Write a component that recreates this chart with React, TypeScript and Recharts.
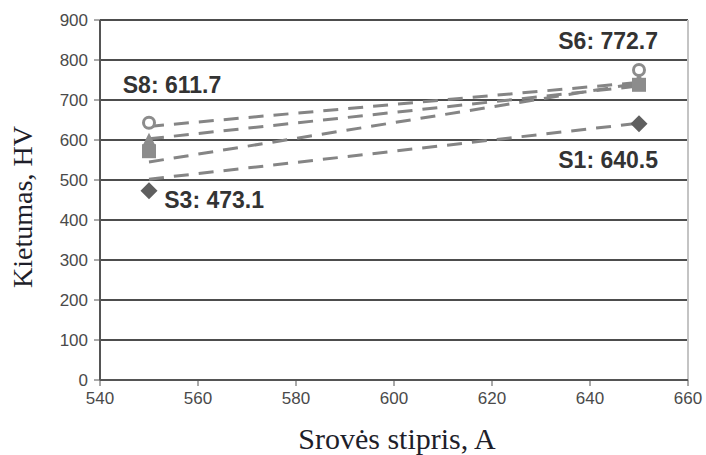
import React from "react";
import {
  CartesianGrid,
  ComposedChart,
  Label,
  Line,
  ReferenceDot,
  ReferenceLine,
  Scatter,
  XAxis,
  YAxis,
} from "recharts";

// current (A) at the two measured points
const currents = [550, 650];

// measured hardness per marker group
const diamondValues = [473.1, 640.5];
const circleValues = [643, 775];
const triangleValues = [598, 748];
const squareValues = [572, 738];

// dashed trend lines (start / end)
const trendA = [634, 744];
const trendB = [603, 735];
const trendC = [545, 742];
const trendD = [502, 642];

const xTicks = [540, 560, 580, 600, 620, 640, 660];
const yTicks = [0, 100, 200, 300, 400, 500, 600, 700, 800, 900];

const notes = [
  { text: "S6: 772.7", x: 643.7, y: 847 },
  { text: "S8: 611.7", x: 554.7, y: 737 },
  { text: "S1: 640.5", x: 643.7, y: 550 },
  { text: "S3: 473.1", x: 563.3, y: 450 },
];

const toPoints = (vals: number[]) => currents.map((x, i) => ({ x, y: vals[i] }));

const SANS = "'Liberation Sans', Arial, sans-serif";
const SERIF = "'Liberation Serif', 'Times New Roman', serif";

const Diamond = (p: any) => {
  const { cx, cy } = p;
  const r = 8.5;
  return <path d={`M${cx},${cy - r}L${cx + r},${cy}L${cx},${cy + r}L${cx - r},${cy}Z`} fill="#5f5f5f" />;
};

const Square = (p: any) => {
  const { cx, cy } = p;
  return <rect x={cx - 7} y={cy - 7} width={14} height={14} fill="#8c8c8c" />;
};

const Triangle = (p: any) => {
  const { cx, cy } = p;
  return <path d={`M${cx},${cy - 8}L${cx + 7},${cy + 6}L${cx - 7},${cy + 6}Z`} fill="#8c8c8c" />;
};

const OpenCircle = (p: any) => {
  const { cx, cy } = p;
  return <circle cx={cx} cy={cy} r={5.5} fill="#fff" stroke="#8c8c8c" strokeWidth={3} />;
};

const dash = { stroke: "#858585", strokeWidth: 3, strokeDasharray: "15 10" };

export default function App() {
  return (
    <div style={{ position: "absolute", left: 0, top: 0, background: "#fff" }}>
      <ComposedChart width={706} height={455} margin={{ top: 20, right: 18, left: 0, bottom: 0 }}>
        <CartesianGrid horizontal vertical={false} stroke="#4d4d4d" strokeWidth={2} />
        <ReferenceLine x={660} stroke="#c4c4c4" strokeWidth={2} />
        <XAxis
          type="number"
          dataKey="x"
          domain={[540, 660]}
          ticks={xTicks}
          height={75}
          tickSize={6}
          tickMargin={6}
          stroke="#555"
          axisLine={{ stroke: "#555", strokeWidth: 2 }}
          tick={{ fill: "#4a4a4a", fontSize: 17, fontFamily: SANS }}
        >
          <Label
            value="Srovės stipris, A"
            position="center"
            dx={3}
            dy={21}
            style={{ fontFamily: SERIF, fontSize: 30, fill: "#1e1e2a" }}
          />
        </XAxis>
        <YAxis
          type="number"
          dataKey="y"
          domain={[0, 900]}
          ticks={yTicks}
          width={100}
          tickSize={6}
          tickMargin={6}
          stroke="#555"
          axisLine={{ stroke: "#555", strokeWidth: 2 }}
          tick={{ fill: "#4a4a4a", fontSize: 17, fontFamily: SANS }}
        >
          <Label
            value="Kietumas, HV"
            position="center"
            angle={-90}
            dx={-28}
            dy={7}
            style={{ fontFamily: SERIF, fontSize: 28, fill: "#1e1e2a", textAnchor: "middle" }}
          />
        </YAxis>

        <Line data={toPoints(trendA)} dataKey="y" dot={false} {...dash} isAnimationActive={false} />
        <Line data={toPoints(trendB)} dataKey="y" dot={false} {...dash} isAnimationActive={false} />
        <Line data={toPoints(trendC)} dataKey="y" dot={false} {...dash} isAnimationActive={false} />
        <Line data={toPoints(trendD)} dataKey="y" dot={false} {...dash} isAnimationActive={false} />

        <Scatter data={toPoints(diamondValues)} shape={Diamond} isAnimationActive={false} />
        <Scatter data={toPoints(triangleValues)} shape={Triangle} isAnimationActive={false} />
        <Scatter data={toPoints(squareValues)} shape={Square} isAnimationActive={false} />
        <Scatter data={toPoints(circleValues)} shape={OpenCircle} isAnimationActive={false} />

        {notes.map((n) => (
          <ReferenceDot
            key={n.text}
            x={n.x}
            y={n.y}
            r={0}
            stroke="none"
            fill="none"
            label={{
              value: n.text,
              position: "center",
              fontSize: 23,
              fontWeight: 700,
              fontFamily: SANS,
              fill: "#333",
            }}
          />
        ))}
      </ComposedChart>
    </div>
  );
}
